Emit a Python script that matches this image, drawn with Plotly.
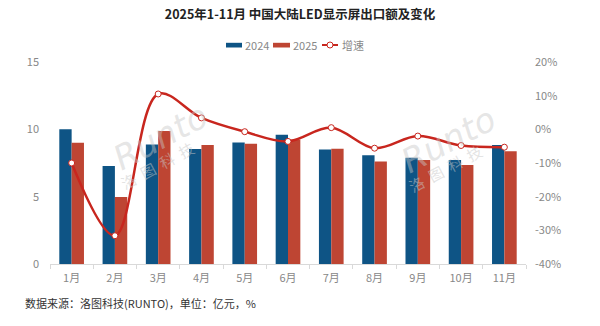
import plotly.graph_objects as go

months = ["1月", "2月", "3月", "4月", "5月", "6月", "7月", "8月", "9月", "10月", "11月"]
v2024 = [10.0, 7.27, 8.88, 8.54, 9.03, 9.6, 8.51, 8.07, 7.89, 7.72, 8.83]
v2025 = [9.0, 4.97, 9.87, 8.83, 8.93, 9.25, 8.56, 7.62, 7.72, 7.35, 8.37]
growth = [-10.0, -31.6, 10.5, 3.4, -0.7, -3.6, 0.5, -5.6, -2.0, -4.8, -5.3]

left_ticks = [0, 5, 10, 15]
right_ticks = [-40, -30, -20, -10, 0, 10, 20]

BLUE = "#0E5485"
RED = "#BE4533"
LINE = "#C8261E"
FONT = "Noto Sans CJK SC"

W, H = 600, 326
ML, MR, MT, MB = 50, 74, 62, 62
PW, PH = W - ML - MR, H - MT - MB


def px(x):
    return (x - ML) / PW


def py(y):
    return (H - MB - y) / PH


fig = go.Figure()
fig.add_trace(go.Bar(x=months, y=v2024, name="2024", marker_color=BLUE, marker_line_width=0))
fig.add_trace(go.Bar(x=months, y=v2025, name="2025", marker_color=RED, marker_line_width=0))
fig.add_trace(go.Scatter(
    x=months, y=growth, name="增速", yaxis="y2", mode="lines+markers",
    line=dict(color=LINE, width=2.5, shape="spline", smoothing=1.0),
    marker=dict(symbol="circle", size=6, color="white", line=dict(color=LINE, width=1)),
))

# watermark
for cx, cy1, cy2 in [(160, 137, 165), (448, 140, 168)]:
    fig.add_annotation(x=px(cx), y=py(cy1), xref="paper", yref="paper", xanchor="center", yanchor="middle",
                       text="<i>Runto</i>", showarrow=False, textangle=-28,
                       font=dict(family="DejaVu Sans", size=34, color="rgba(200,200,200,0.45)"))
    fig.add_annotation(x=px(cx - 3), y=py(cy2), xref="paper", yref="paper", xanchor="center", yanchor="middle",
                       text="洛  图  科  技", showarrow=False, textangle=-28,
                       font=dict(family=FONT, size=15, color="rgba(200,200,200,0.5)"))

# custom legend
legend_items = [("rect", BLUE, 226, 242, "2024", 243),
                ("rect", RED, 273, 290, "2025", 291),
                ("line", LINE, 322, 338, "增速", 340)]
for kind, col, x0, x1, label, tx in legend_items:
    if kind == "rect":
        fig.add_shape(type="rect", xref="paper", yref="paper", x0=px(x0), x1=px(x1),
                      y0=py(47.5), y1=py(42.8), fillcolor=col, line_width=0)
    else:
        fig.add_shape(type="line", xref="paper", yref="paper", x0=px(x0), x1=px(x1),
                      y0=py(45), y1=py(45), line=dict(color=col, width=2))
        fig.add_shape(type="circle", xref="paper", yref="paper", x0=px(327), x1=px(333),
                      y0=py(48), y1=py(42), fillcolor="white", line=dict(color=col, width=1))
    fig.add_annotation(x=px(tx), y=py(45), xref="paper", yref="paper", xanchor="left", yanchor="middle",
                       text=label, showarrow=False, font=dict(family=FONT, size=11, color="#888888"))

fig.add_annotation(x=px(23), y=py(303), xref="paper", yref="paper", xanchor="left", yanchor="middle",
                   text="数据来源：洛图科技(RUNTO)，单位：亿元，%", showarrow=False,
                   font=dict(family=FONT, size=11, color="#333333"))

fig.update_layout(
    width=W, height=H,
    margin=dict(l=ML, r=MR, t=MT, b=MB),
    paper_bgcolor="white", plot_bgcolor="white",
    font=dict(family=FONT, color="#888888", size=11),
    title=dict(text="<b>2025年1-11月 中国大陆LED显示屏出口额及变化</b>", x=0.5, xanchor="center",
               y=0.955, yanchor="middle", font=dict(family=FONT, size=12.5, color="#222222")),
    barmode="group", bargap=0.43, bargroupgap=0,
    showlegend=False,
    xaxis=dict(range=[-0.5, len(months) - 0.5], showline=True, linecolor="#D9D9D9", linewidth=1,
               ticks="outside", tickson="boundaries", ticklen=4, tickcolor="#D9D9D9",
               tickfont=dict(size=11, color="#888888"), showgrid=False, automargin=False,
               ticklabelstandoff=4),
    yaxis=dict(range=[0, 15], tickvals=left_ticks, showgrid=False, zeroline=False,
               tickfont=dict(size=11, color="#888888"), ticks="", ticklabelstandoff=10, automargin=False),
    yaxis2=dict(range=[-40, 20], tickvals=right_ticks, ticktext=[f"{t}%" for t in right_ticks],
                overlaying="y", side="right", showgrid=False, zeroline=False,
                tickfont=dict(size=11, color="#888888"), ticklabelstandoff=8, automargin=False),
)

fig.write_html("out.html")
